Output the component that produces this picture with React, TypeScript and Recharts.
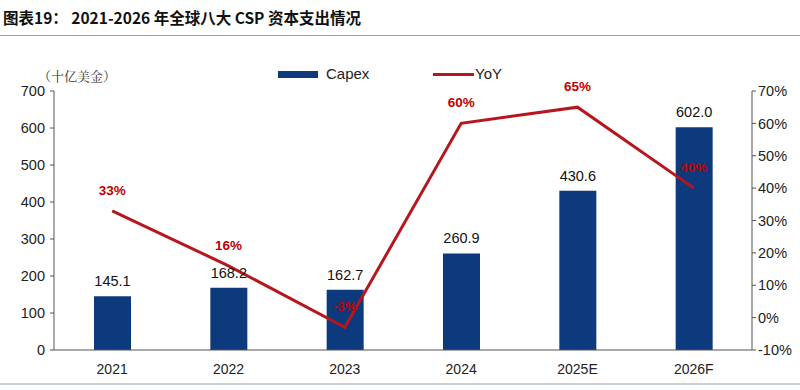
import React from 'react';
import {
  ComposedChart,
  Bar,
  Line,
  XAxis,
  YAxis,
  LabelList,
} from 'recharts';

const years = ['2021', '2022', '2023', '2024', '2025E', '2026F'];
const capex = [145.1, 168.2, 162.7, 260.9, 430.6, 602.0];
const yoy = [33, 16, -3, 60, 65, 40];
const leftTicks = [0, 100, 200, 300, 400, 500, 600, 700];
const rightTicks = [-10, 0, 10, 20, 30, 40, 50, 60, 70];

const data = years.map((year, i) => ({ year, capex: capex[i], yoy: yoy[i] }));

const font = 'Arial, "Liberation Sans", sans-serif';
const navy = '#0c3a7c';
const red = '#b8161e';

const YoyLabel = (props: any) => {
  const { x, y, value } = props;
  return (
    <text x={x} y={y - 16} textAnchor="middle" fill="#c00000" fontSize={13.5} fontWeight="bold" fontFamily={font}>
      {value}%
    </text>
  );
};

// legend drawn as plain html so it does not eat into the plot area
const ChartLegend = () => (
  <div style={{ position: 'absolute', left: 0, top: 65, width: 800, height: 20, fontFamily: font, fontSize: 15, color: '#222' }}>
    <div style={{ position: 'absolute', left: 278, top: 6, width: 40, height: 7, background: navy }} />
    <span style={{ position: 'absolute', left: 326, top: 0 }}>Capex</span>
    <div style={{ position: 'absolute', left: 433, top: 8, width: 41, height: 3, background: red }} />
    <span style={{ position: 'absolute', left: 475, top: 0 }}>YoY</span>
  </div>
);

export default function App() {
  return (
    <div style={{ position: 'relative', width: 800, height: 390, background: '#fff', overflow: 'hidden' }}>
      <style>{'body{margin:0}'}</style>
      <div
        style={{
          position: 'absolute',
          left: 3,
          top: 6,
          fontFamily: '"Noto Sans CJK SC", Arial, sans-serif',
          fontWeight: 'bold',
          fontSize: 15.5,
          color: '#111',
          whiteSpace: 'nowrap',
        }}
      >
        图表19：&nbsp;2021-2026 年全球八大 CSP 资本支出情况
      </div>
      <div style={{ position: 'absolute', left: 0, top: 35, width: 800, height: 1, background: '#9aa0a8' }} />
      <div style={{ position: 'absolute', left: 0, top: 383, width: 800, height: 2, background: '#c8d0dc' }} />
      <div
        style={{
          position: 'absolute',
          left: 38,
          top: 66,
          fontFamily: '"Noto Serif CJK SC", "Noto Sans CJK SC", serif',
          fontSize: 13,
          color: '#333',
        }}
      >
        （十亿美金）
      </div>
      <div style={{ position: 'absolute', left: 0, top: 0 }}>
        <ComposedChart width={800} height={390} data={data} margin={{ top: 91, right: 0, bottom: 10, left: 4 }}>
          <XAxis
            dataKey="year"
            height={30}
            tickLine={false}
            axisLine={{ stroke: '#555' }}
            tick={{ fill: '#222', fontSize: 14, fontFamily: font }}
            tickMargin={8}
          />
          <YAxis
            yAxisId="left"
            width={50}
            domain={[0, 700]}
            ticks={leftTicks}
            interval={0}
            axisLine={{ stroke: '#555' }}
            tickLine={{ stroke: '#555' }}
            tickSize={4}
            tickMargin={5}
            tick={{ fill: '#222', fontSize: 14.5, fontFamily: font }}
          />
          <YAxis
            yAxisId="right"
            orientation="right"
            width={48}
            domain={[-10, 70]}
            ticks={rightTicks}
            interval={0}
            tickFormatter={(v: number) => `${v}%`}
            axisLine={{ stroke: '#555' }}
            tickLine={{ stroke: '#555' }}
            tickSize={4}
            tickMargin={2}
            tick={{ fill: '#222', fontSize: 14.5, fontFamily: font }}
          />
          <Bar yAxisId="left" dataKey="capex" fill={navy} barSize={37} isAnimationActive={false}>
            <LabelList
              dataKey="capex"
              position="top"
              offset={10}
              formatter={(v: number) => v.toFixed(1)}
              style={{ fill: '#111', fontSize: 14.5, fontFamily: font }}
            />
          </Bar>
          <Line
            yAxisId="right"
            dataKey="yoy"
            stroke={red}
            strokeWidth={3}
            dot={false}
            isAnimationActive={false}
          >
            <LabelList dataKey="yoy" content={<YoyLabel />} />
          </Line>
        </ComposedChart>
      </div>
      <ChartLegend />
    </div>
  );
}
